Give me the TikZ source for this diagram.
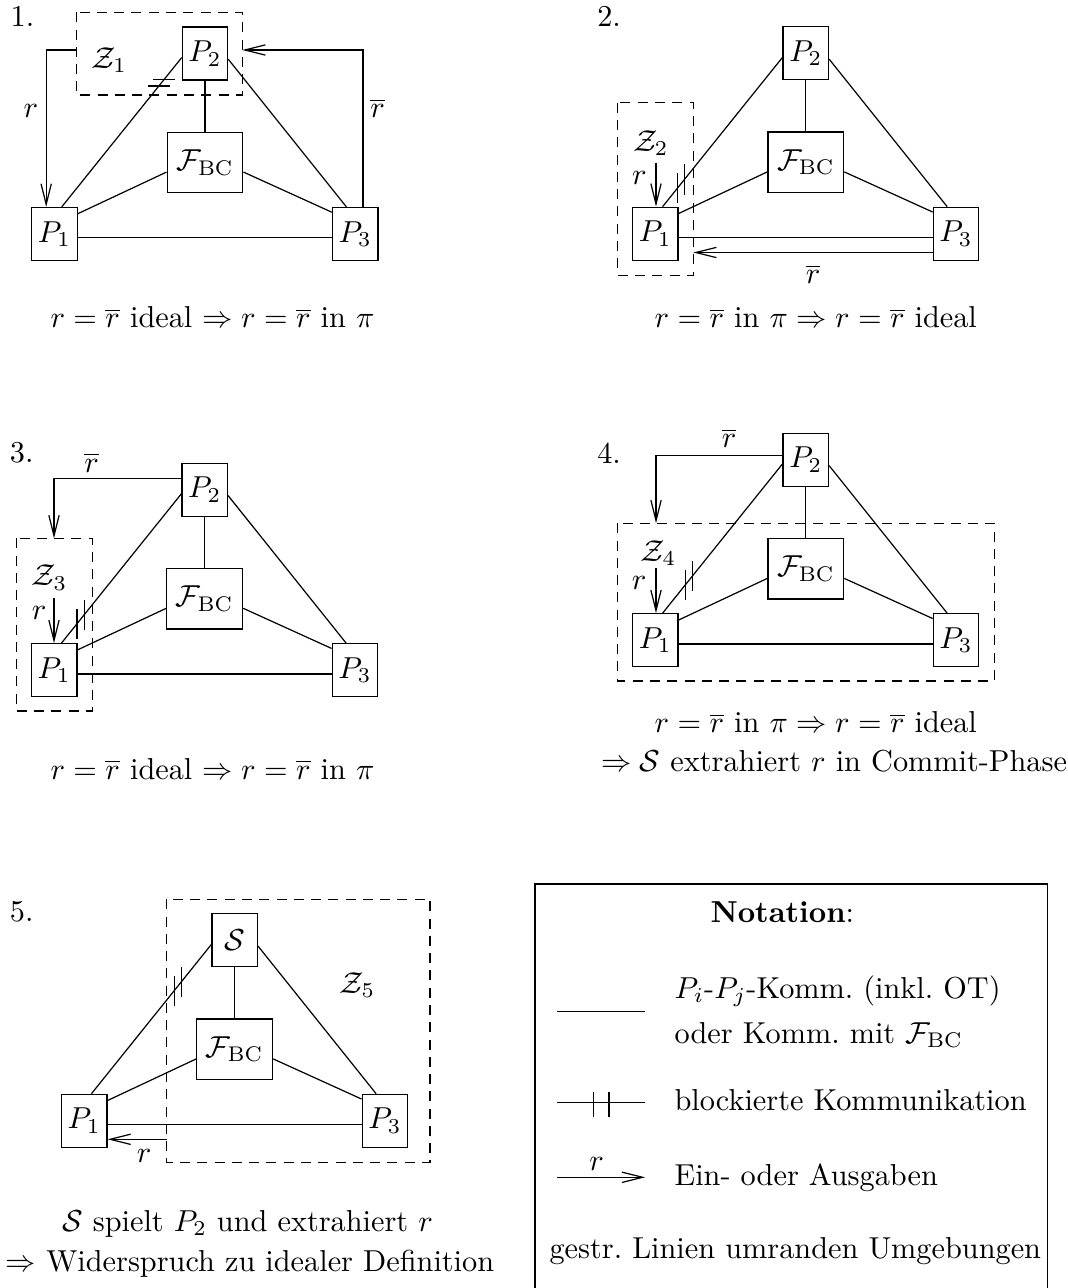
\documentclass[tikz,border=0pt]{standalone}
\usepackage{amsmath,amssymb}
\usepackage{tikz}
\usetikzlibrary{arrows.meta}

\begin{document}
\begin{tikzpicture}[x=0.33pt,y=-0.33pt,
  pbox/.style={draw,inner sep=0pt,minimum width=15pt,minimum height=17.5pt},
  fbox/.style={draw,inner sep=0pt,minimum width=25pt,minimum height=20pt},
  zone/.style={draw,dash pattern=on 3.3pt off 2.4pt},
  io/.style={-{Straight Barb[length=6.8pt,width=3.4pt]}},
  lbl/.style={inner sep=0pt}]
\useasboundingbox (0,0) rectangle (1067,1288);

% the five triangles with F_BC in the middle
\foreach \n/\x/\y/\lab/\pa/\pb in {a/205/53.5/P_2/.81/.855, b/805.8/53.3/P_2/.127/.183,
  c/204.7/489.7/P_2/.13/.19, d/805.8/459.8/P_2/.19/.25, e/234.7/940.3/\mathcal{S}/.69/.75}{
  \begin{scope}[shift={(\x,\y)}]
  \node[pbox] (\n2) at (0,0) {$\lab$};
  \node[fbox] (\n f) at (0,109) {$\mathcal{F}_{\mathrm{BC}}$};
  \node[pbox] (\n1) at (-150.5,180.5) {$P_1$};
  \node[pbox] (\n3) at (150.2,180.5) {$P_3$};
  \draw (\n1.75) -- coordinate[pos=\pa] (\n k) coordinate[pos=\pb] (\n l) (\n2.190);
  \draw (\n2.346) -- (\n3.108);
  \draw (\n2) -- (\n f);
  \draw (\n f.194) -- (\n1.41);
  \draw (\n f.346) -- (\n3.137);
  \draw (\n1.351) -- (\n3.189);
  \end{scope}
}

% blocked lines
\draw ([xshift=-3.7pt]ak) -- ([xshift=3.7pt]ak);
\draw ([xshift=-3.7pt]al) -- ([xshift=3.7pt]al);
\foreach \n in {b,c,d,e}{
  \draw ([yshift=-5pt]\n k) -- ([yshift=5pt]\n k);
  \draw ([yshift=-5pt]\n l) -- ([yshift=5pt]\n l);
}

% 1.
\node[lbl,anchor=base west] (num1) at (10,26.7) {1.};
\draw[zone] (76.7,12.3) rectangle (242.3,95);
\node (zl1) at (109.2,60) {$\mathcal{Z}_1$};
\coordinate (r1a) at (76.7,50);
\coordinate (r1b) at (242.3,50);
\draw[io] (r1a) -| (a1.107);
\draw[io] (a3.74) |- (r1b);
\node (lr1) at (30.8,110.8) {$r$};
\node (lb1) at (377.5,108.3) {$\overline{r}$};
\node[anchor=base] (cap1) at (212.5,327.5) {$r=\overline{r}$ ideal $\Rightarrow r=\overline{r}$ in $\pi$};

% 2.
\node[lbl,anchor=base west] (num2) at (596.7,26.7) {2.};
\draw[zone] (617.7,102.7) rectangle (693.3,275.3);
\node (zl2) at (650.8,143.3) {$\mathcal{Z}_2$};
\coordinate (r2a) at (656,162.7);
\coordinate (r2b) at (693.3,252.5);
\draw[io] (r2a) -- (r2a |- b1.north);
\draw[io] (r2b -| b3.west) -- (r2b);
\node (lr2) at (639.3,177.5) {$r$};
\node (lb2) at (813,274) {$\overline{r}$};
\node[anchor=base] (cap2) at (815.8,327.7) {$r=\overline{r}$ in $\pi \Rightarrow r=\overline{r}$ ideal};

% 3.
\node[lbl,anchor=base west] (num3) at (9.3,462.7) {3.};
\draw[zone] (16.7,538.3) rectangle (92.3,711);
\node (zl3) at (49.5,577.5) {$\mathcal{Z}_3$};
\coordinate (r3c) at (54,478.3);
\coordinate (r3a) at (54,538.3);
\coordinate (r3b) at (54,598.3);
\draw[io] (r3c -| c2.west) -- (r3c) -- (r3a);
\draw[io] (r3b) -- (r3b |- c1.north);
\node (lb3) at (91.7,462.5) {$\overline{r}$};
\node (lr3) at (39.2,613.3) {$r$};
\node[anchor=base] (cap3) at (212.5,779) {$r=\overline{r}$ ideal $\Rightarrow r=\overline{r}$ in $\pi$};

% 4.
\node[lbl,anchor=base west] (num4) at (596.7,463.3) {4.};
\draw[zone] (617.7,523.3) rectangle (994.3,681);
\node (zl4) at (658.5,553) {$\mathcal{Z}_4$};
\coordinate (r4c) at (656,455.5);
\coordinate (r4a) at (656,523.3);
\coordinate (r4b) at (656,568.3);
\draw[io] (r4c -| d2.west) -- (r4c) -- (r4a);
\draw[io] (r4b) -- (r4b |- d1.north);
\node (lb4) at (729,438.3) {$\overline{r}$};
\node (lr4) at (639.2,583.3) {$r$};
\node[anchor=base] (cap4) at (815.8,732.5) {$r=\overline{r}$ in $\pi \Rightarrow r=\overline{r}$ ideal};
\node[anchor=base] (cap4b) at (834,771) {$\Rightarrow \mathcal{S}$ extrahiert $r$ in Commit-Phase};

% 5.
\node[lbl,anchor=base west] (num5) at (9.3,921.7) {5.};
\draw[zone] (166.7,899.3) rectangle (430,1162.3);
\node (zl5) at (357.5,985.3) {$\mathcal{Z}_5$};
\coordinate (r5a) at (166.7,1139.3);
\draw[io] (r5a) -- (r5a -| e1.east);
\node (lr5) at (144.2,1155.8) {$r$};
\node[anchor=base] (cap5) at (247.5,1231) {$\mathcal{S}$ spielt $P_2$ und extrahiert $r$};
\node[anchor=base] (cap5b) at (250,1271.7) {$\Rightarrow$ Widerspruch zu idealer Definition};

% legend
\draw (535,1288) |- (1047.3,884) -- (1047.3,1288);
\node (nota) at (782.3,911.7) {\textbf{Notation}:};
\draw (557.3,1011.7) -- (645,1011.7);
\node[lbl,anchor=base west] (leg1) at (674,998.3) {$P_i$-$P_j$-Komm.\ (inkl.\ OT)};
\node[lbl,anchor=base west] (leg2) at (674,1043.3) {oder Komm.\ mit $\mathcal{F}_{\mathrm{BC}}$};
\draw (557.3,1102.3) -- (645,1102.3);
\draw (593.3,1091.7) -- (593.3,1116.7) (609,1091.7) -- (609,1116.7);
\node[lbl,anchor=base west] (leg3) at (674,1110) {blockierte Kommunikation};
\draw[io] (557.3,1177.3) -- (645,1177.3);
\node (legr) at (596.7,1164) {$r$};
\node[lbl,anchor=base west] (leg4) at (674,1185) {Ein- oder Ausgaben};
\node[lbl,anchor=base] (leg5) at (795.3,1258.3) {gestr.\ Linien umranden Umgebungen};
\end{tikzpicture}
\end{document}
